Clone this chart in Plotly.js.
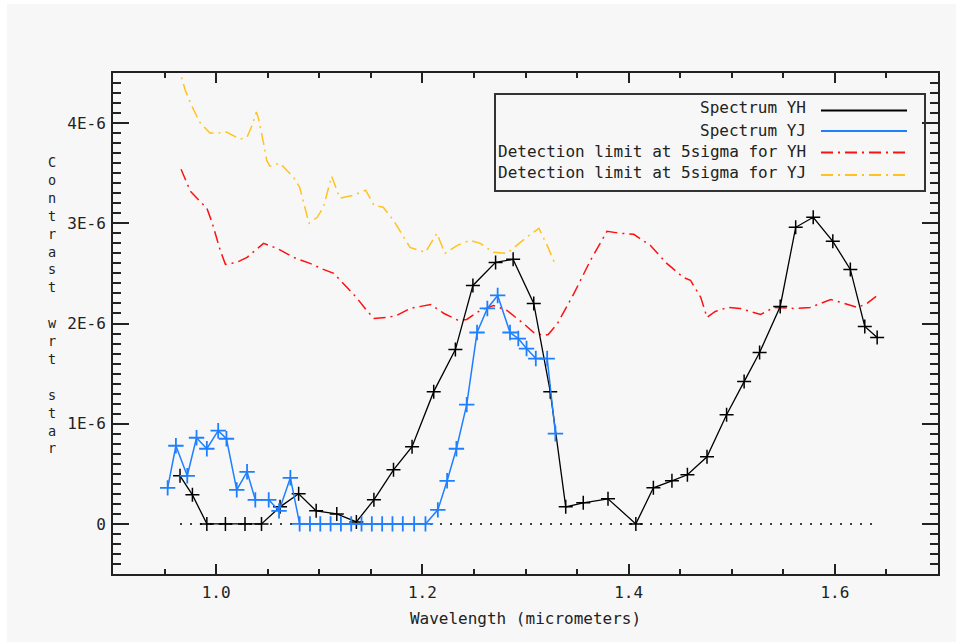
<!DOCTYPE html>
<html>
<head>
<meta charset="utf-8">
<script src="https://cdn.plot.ly/plotly-3.0.1.min.js"></script>
<style>
  html, body { margin: 0; padding: 0; background: #ffffff; }
  #chart { position: absolute; left: 7px; top: 4px; width: 949px; height: 638px; }
</style>
</head>
<body>
<div id="chart"></div>
<script>
// ---- Data (y values in units of 1E-6 contrast) ----
const yhWavelength = [0.965,0.977,0.991,1.009,1.028,1.044,1.062,1.080,1.097,1.117,1.136,1.153,1.172,1.190,1.211,1.232,1.249,1.271,1.288,1.308,1.324,1.339,1.356,1.380,1.407,1.424,1.442,1.457,1.476,1.495,1.512,1.527,1.547,1.562,1.579,1.598,1.615,1.629,1.641];
const yhContrastE6 = [0.48,0.29,0.00,0.00,0.00,0.00,0.17,0.30,0.13,0.10,0.02,0.24,0.54,0.77,1.32,1.74,2.38,2.61,2.64,2.20,1.32,0.17,0.21,0.25,0.00,0.36,0.43,0.49,0.67,1.09,1.42,1.71,2.17,2.96,3.06,2.82,2.54,1.97,1.86];

const yjWavelength = [0.953,0.961,0.972,0.981,0.991,1.002,1.010,1.020,1.030,1.038,1.051,1.061,1.072,1.081,1.091,1.101,1.111,1.121,1.131,1.141,1.151,1.161,1.171,1.181,1.192,1.203,1.215,1.224,1.233,1.243,1.253,1.263,1.273,1.285,1.293,1.301,1.310,1.321,1.329];
const yjContrastE6 = [0.36,0.78,0.48,0.86,0.75,0.93,0.85,0.34,0.52,0.24,0.24,0.13,0.46,0,0,0,0,0,0,0,0,0,0,0,0,0,0.14,0.43,0.75,1.19,1.91,2.15,2.28,1.91,1.85,1.75,1.65,1.65,0.90];

const limYHWavelength = [0.966,0.975,0.991,0.996,1.004,1.009,1.020,1.030,1.046,1.059,1.075,1.091,1.104,1.114,1.127,1.136,1.146,1.153,1.166,1.175,1.188,1.208,1.221,1.235,1.243,1.256,1.269,1.282,1.298,1.308,1.318,1.322,1.331,1.347,1.363,1.379,1.392,1.405,1.421,1.437,1.453,1.460,1.470,1.476,1.484,1.496,1.508,1.528,1.541,1.560,1.576,1.596,1.606,1.622,1.631,1.640];
const limYHContrastE6 = [3.54,3.32,3.15,3.01,2.73,2.59,2.61,2.66,2.80,2.75,2.66,2.60,2.54,2.50,2.36,2.26,2.13,2.05,2.06,2.08,2.15,2.19,2.10,2.03,2.04,2.13,2.18,2.13,2.00,1.91,1.88,1.89,2.00,2.30,2.63,2.92,2.90,2.89,2.78,2.60,2.46,2.43,2.26,2.06,2.12,2.16,2.15,2.09,2.16,2.15,2.16,2.24,2.21,2.16,2.20,2.27];

const limYJWavelength = [0.962,0.970,0.976,0.984,0.994,1.001,1.010,1.017,1.023,1.030,1.035,1.039,1.041,1.046,1.049,1.052,1.062,1.075,1.081,1.085,1.090,1.098,1.104,1.112,1.120,1.133,1.145,1.153,1.162,1.172,1.179,1.188,1.203,1.214,1.222,1.234,1.246,1.256,1.269,1.282,1.288,1.301,1.313,1.321,1.328];
const limYJContrastE6 = [4.62,4.33,4.18,4.01,3.90,3.90,3.91,3.87,3.84,3.86,3.98,4.11,4.05,3.80,3.63,3.57,3.60,3.46,3.36,3.20,3.00,3.06,3.16,3.47,3.25,3.28,3.33,3.18,3.16,3.03,2.91,2.76,2.71,2.90,2.70,2.78,2.83,2.80,2.71,2.70,2.75,2.86,2.95,2.78,2.61];

const seriesNames = ['Spectrum YH','Spectrum YJ','Detection limit at 5sigma for YH','Detection limit at 5sigma for YJ'];
const yTickValsE6 = [0,1,2,3,4];
const yTickText = ['0','1E-6','2E-6','3E-6','4E-6'];
const xAxisTitle = 'Wavelength (micrometers)';
const yAxisTitle = 'Contrast wrt star';

// ---- Styles ----
const E6 = 1e-6;
const toReal = a => a.map(v => v * E6);
const FONT = 'DejaVu Sans Mono, Liberation Mono, monospace';
const TXT = '#222222';
const colors = ['#000000', '#1f80ff', '#ff1010', '#ffc21f'];
const dashDot = '12px,5px,2px,5px';

// plot area in page pixels (for paper-coord helpers)
const PL = 113, PR = 938, PT = 73, PB = 574, DIVX = 7, DIVY = 4;
const px2x = px => (px - PL) / (PR - PL);
const py2y = py => (PB - py) / (PB - PT);

const traces = [
  { x: [yhWavelength[0], yhWavelength[yhWavelength.length-1]], y: [0,0], mode: 'lines',
    line: { color: '#000', width: 1.5, dash: '2px,8px' }, hoverinfo: 'skip', showlegend: false },
  { x: limYHWavelength, y: toReal(limYHContrastE6), mode: 'lines', name: seriesNames[2],
    line: { color: colors[2], width: 1.5, dash: dashDot } },
  { x: limYJWavelength, y: toReal(limYJContrastE6), mode: 'lines', name: seriesNames[3],
    line: { color: colors[3], width: 1.5, dash: dashDot } },
  { x: yhWavelength, y: toReal(yhContrastE6), mode: 'lines+markers', name: seriesNames[0],
    line: { color: colors[0], width: 1.3 },
    marker: { symbol: 'cross-thin-open', size: 10, line: { color: colors[0], width: 1.5 } } },
  { x: yjWavelength, y: toReal(yjContrastE6), mode: 'lines+markers', name: seriesNames[1],
    line: { color: colors[1], width: 1.5 },
    marker: { symbol: 'cross-thin-open', size: 11, line: { color: colors[1], width: 1.8 } } }
];

// custom legend (text right-aligned, sample on the right, boxed)
const legendRows = [108, 130, 152, 173];
const sampleRows = [110.5, 131, 152.5, 175];
const shapes = [
  { type: 'rect', xref: 'paper', yref: 'paper', x0: px2x(495), x1: px2x(925), y0: py2y(191), y1: py2y(94),
    line: { color: '#333', width: 2 }, fillcolor: 'rgba(0,0,0,0)' }
];
const annotations = [];
const legendDash = ['solid', 'solid', dashDot, dashDot];
seriesNames.forEach((name, i) => {
  annotations.push({ xref: 'paper', yref: 'paper', x: px2x(808), y: py2y(legendRows[i]),
    xanchor: 'right', yanchor: 'middle', text: name, showarrow: false,
    font: { family: FONT, size: 16, color: TXT } });
  shapes.push({ type: 'line', xref: 'paper', yref: 'paper', x0: px2x(821), x1: px2x(907),
    y0: py2y(sampleRows[i]), y1: py2y(sampleRows[i]),
    line: { color: colors[i], width: 2, dash: legendDash[i] } });
});

// vertical, stacked y-axis title
const titleTop = 162, titleStep = 17.9;
Array.from(yAxisTitle).forEach((ch, i) => {
  if (ch === ' ') return;
  annotations.push({ xref: 'paper', yref: 'paper', x: px2x(52), y: py2y(titleTop + i * titleStep),
    xanchor: 'center', yanchor: 'middle', text: ch, showarrow: false,
    font: { family: FONT, size: 13.5, color: TXT } });
});

const layout = {
  width: 949, height: 638,
  margin: { l: PL - DIVX, r: 956 - PR, t: PT - DIVY, b: (642 - DIVY) - (PB - DIVY) },
  paper_bgcolor: '#f7f7f7', plot_bgcolor: '#f7f7f7',
  showlegend: false,
  font: { family: FONT, size: 16, color: TXT },
  xaxis: {
    range: [0.9, 1.7], tickmode: 'linear', tick0: 1.0, dtick: 0.2, tickformat: '.1f',
    ticks: 'inside', ticklen: 10, tickwidth: 2, tickcolor: '#222',
    showline: true, linewidth: 2, linecolor: '#222', mirror: 'allticks',
    showgrid: false, zeroline: false,
    minor: { tickmode: 'linear', tick0: 1.0, dtick: 0.05, ticks: 'inside', ticklen: 5, tickwidth: 2, tickcolor: '#222', showgrid: false },
    tickfont: { family: FONT, size: 16, color: TXT },
    ticklabelstandoff: 3,
    title: { text: xAxisTitle, font: { family: FONT, size: 16, color: TXT }, standoff: 12 }
  },
  yaxis: {
    range: [-0.5e-6, 4.5e-6], tickmode: 'array', tickvals: toReal(yTickValsE6), ticktext: yTickText,
    ticks: 'inside', ticklen: 16, tickwidth: 2, tickcolor: '#222',
    showline: true, linewidth: 2, linecolor: '#222', mirror: 'allticks',
    showgrid: false, zeroline: false,
    minor: { tickmode: 'linear', tick0: 0, dtick: 1e-7, ticks: 'inside', ticklen: 8, tickwidth: 2, tickcolor: '#222', showgrid: false },
    tickfont: { family: FONT, size: 16, color: TXT },
    ticklabelstandoff: 2
  },
  shapes: shapes,
  annotations: annotations
};

Plotly.newPlot('chart', traces, layout, { displayModeBar: false, staticPlot: true });
</script>
</body>
</html>
